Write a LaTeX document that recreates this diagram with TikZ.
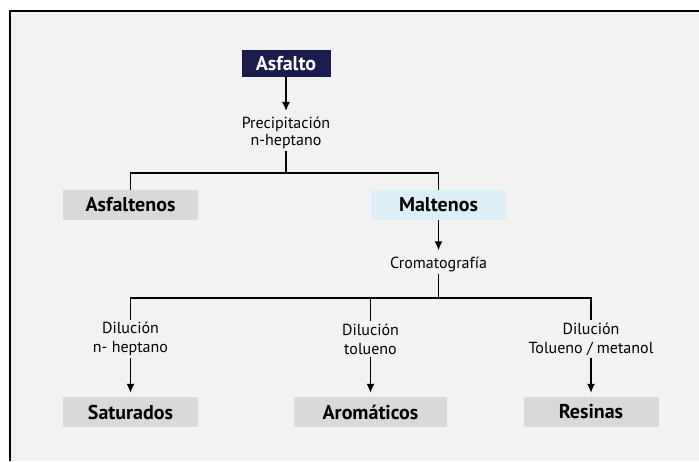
\documentclass[tikz,border=0pt]{standalone}
\usepackage{fontspec}
\setmainfont{PT Sans}
\usetikzlibrary{shapes,arrows,arrows.meta,calc}
\definecolor{navy}{HTML}{1A1D4C}
\definecolor{boxgray}{HTML}{D9D9D9}
\definecolor{boxblue}{HTML}{DCEFF7}
\definecolor{bggray}{HTML}{F2F2F2}
\tikzstyle{line} = [draw, line width=1.4pt, -{Latex[length=9pt,width=8pt]}, shorten >=4pt]
\tikzstyle{wire} = [draw, line width=1.4pt]
\tikzstyle{block} = [rectangle, fill=boxgray, text centered, minimum width=135pt, minimum height=30pt, font=\bfseries\fontsize{20}{22}\selectfont]
\tikzstyle{head} = [block, fill=navy, text=white, minimum width=89pt, minimum height=27pt]
\tikzstyle{note} = [align=center, inner sep=2pt, font=\fontsize{16}{17}\selectfont]

\begin{document}
\begin{tikzpicture}[x=1pt, y=1pt, node distance=70pt]
        \useasboundingbox (0,0) rectangle (699,-461);
        \fill[white] (0,0) rectangle (699,-461);
        \fill[bggray] (10,-11) rectangle (699,-461);
        \draw[line width=2.5pt] (10,-461) -- (10,-11) -- (699,-11);
        \node[head] at (286,-63.5) (asfalto) {Asfalto};
        \node[note, below of=asfalto, node distance=69.5pt] (precip) {Precipitación\\n-heptano};
        \coordinate[below of=precip, node distance=40pt] (split1);
        \node[block] at (130.5,-205) (asfaltenos) {Asfaltenos};
        \node[block, fill=boxblue, right of=asfaltenos, node distance=308pt] (maltenos) {Maltenos};
        \node[note, below of=maltenos, node distance=59pt] (cromat) {Cromatografía};
        \coordinate[below of=cromat, node distance=34pt] (split2);
        \node[block, below of=asfaltenos, node distance=207pt] (saturados) {Saturados};
        \node[block, right of=saturados, node distance=240pt, minimum width=153pt] (aromaticos) {Aromáticos};
        \node[block, right of=aromaticos, node distance=220.5pt] (resinas) {Resinas};
        \node[note, above of=saturados, node distance=73pt, font=\fontsize{16}{19}\selectfont] (dil1) {Dilución\\n- heptano};
        \node[note, above of=aromaticos, node distance=73pt, font=\fontsize{16}{19}\selectfont] (dil2) {Dilución\\tolueno};
        \node[note, above of=resinas, node distance=73pt, font=\fontsize{16}{19}\selectfont] (dil3) {Dilución\\Tolueno / metanol};
        \path[line] (asfalto) -- (precip);
        \path[wire] (precip) -- (split1);
        \path[wire] (asfaltenos.north) |- (split1) -| (maltenos.north);
        \path[line] (maltenos) -- (cromat);
        \path[wire] (cromat) -- (split2);
        \path[wire] (dil1.north) |- (split2) -| (dil3.north);
        \path[wire] (dil2.north) -- (dil2.north |- split2);
        \path[line] (dil1) -- (dil1 |- saturados.north);
        \path[line] (dil2) -- (dil2 |- aromaticos.north);
        \path[line] (dil3) -- (dil3 |- resinas.north);
    \end{tikzpicture}
\end{document}
